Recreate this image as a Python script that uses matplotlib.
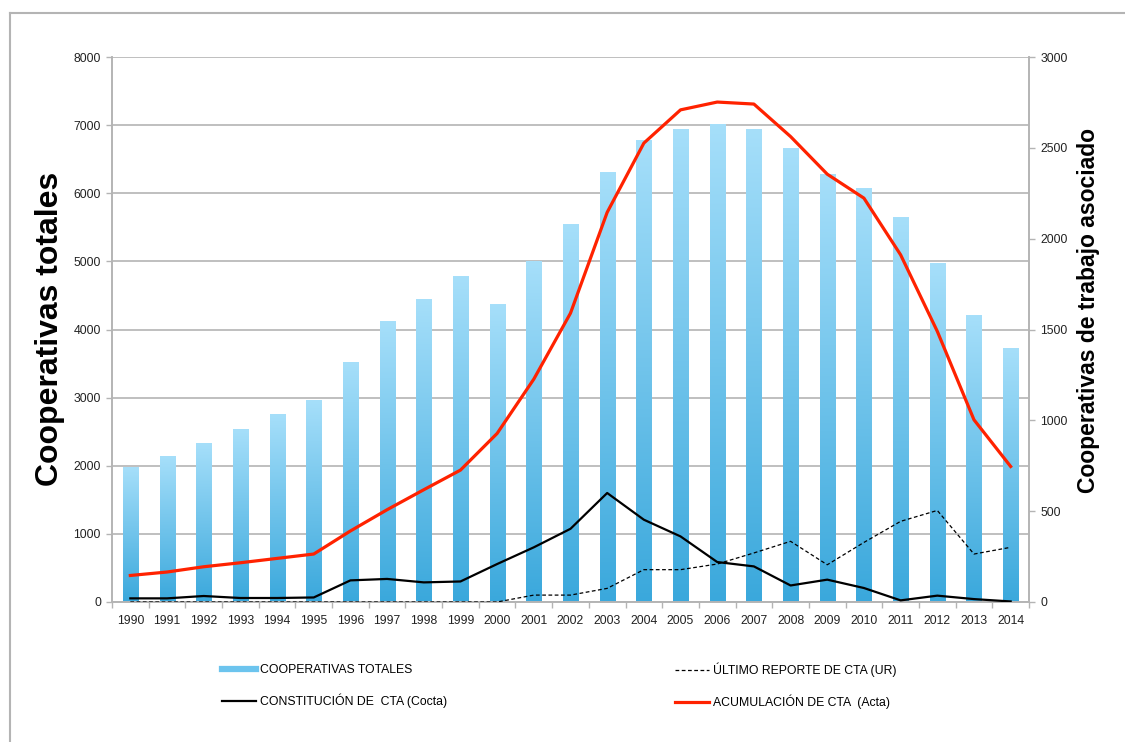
import numpy as np
import matplotlib
matplotlib.use("Agg")
import matplotlib.pyplot as plt
from matplotlib.colors import LinearSegmentedColormap
from matplotlib.lines import Line2D

plt.rcParams['font.family'] = ['Liberation Sans', 'DejaVu Sans']

# Data
years = [str(y) for y in range(1990, 2015)]
totales = [1980, 2135, 2320, 2525, 2745, 2960, 3510, 4120, 4445, 4780, 4365, 4995,
           5540, 6310, 6780, 6930, 7010, 6930, 6650, 6280, 6070, 5645, 4965, 4200, 3715]
acta = [146, 165, 194, 216, 240, 264, 391, 508, 618, 726, 928, 1227,
        1590, 2145, 2526, 2709, 2752, 2741, 2562, 2355, 2223, 1911, 1490, 1003, 746]
cocta = [20, 20, 33, 22, 22, 25, 119, 127, 108, 113, 209, 301,
         403, 600, 453, 361, 220, 196, 91, 123, 77, 9, 35, 16, 3]
ur = [0, 0, 0, 0, 0, 0, 0, 0, 0, 0, 0, 38,
      38, 75, 178, 178, 209, 270, 334, 205, 328, 444, 504, 264, 301]

labels = ['COOPERATIVAS TOTALES', 'CONSTITUCIÓN DE  CTA (Cocta)',
          'ÚLTIMO REPORTE DE CTA (UR)', 'ACUMULACIÓN DE CTA  (Acta)']

W, H = 1125, 742
fig = plt.figure(figsize=(W / 100, H / 100), dpi=100)
ax = fig.add_axes([112 / W, 1 - 602 / H, (1029 - 112) / W, (602 - 57) / H])
ax2 = ax.twinx()

grid_c = '#b4b4b4'
x = np.arange(len(years))

# gradient bars, light at top, darker at the base
bar_cmap = LinearSegmentedColormap.from_list('bar', ['#3aa8dc', '#a6dffa'])
grad = np.linspace(0, 1, 256).reshape(-1, 1)
bw = 0.41
for xi, h in zip(x, totales):
    ax.imshow(grad, cmap=bar_cmap, origin='lower', aspect='auto',
              extent=[xi - bw / 2, xi + bw / 2, 0, h], zorder=2)

ax.set_xlim(-0.5, len(years) - 0.5)
ax.set_ylim(0, 8000)
ax.set_yticks(range(0, 8001, 1000))
ax.yaxis.grid(True, color=grid_c, lw=1.2, zorder=0)
ax.set_axisbelow(True)

ax.set_xticks(x)
ax.set_xticklabels(years)
ax.set_xticks(np.arange(-0.5, len(years)), minor=True)
ax.tick_params(axis='x', which='major', length=0, pad=9, labelsize=8.8, labelcolor='#222222')
ax.tick_params(axis='x', which='minor', length=4, color=grid_c, width=1)
ax.tick_params(axis='y', length=4, color=grid_c, width=1, pad=4, labelsize=8.8,
               labelcolor='#222222')

# lines on the right axis
ax2.plot(x, ur, color='black', lw=0.9, ls=(0, (3, 2)), zorder=3)
ax2.plot(x, cocta, color='black', lw=1.6, zorder=4)
ax2.plot(x, acta, color='#ff2200', lw=2.3, zorder=5)
ax2.set_ylim(0, 3000)
ax2.set_yticks(range(0, 3001, 500))
ax2.tick_params(axis='y', length=4, color=grid_c, width=1, pad=4, labelsize=8.8,
                labelcolor='#222222')

for a in (ax, ax2):
    a.spines['top'].set_visible(False)
    for s in ('left', 'right', 'bottom'):
        a.spines[s].set_color(grid_c)
        a.spines[s].set_linewidth(1.2)

fig.text(50 / W, 1 - 329 / H, 'Cooperativas totales', rotation=90, ha='center', va='center',
         fontsize=23, fontweight='bold')
fig.text(1088 / W, 1 - 310 / H, 'Cooperativas de trabajo asociado', rotation=90,
         ha='center', va='center', fontsize=16.5, fontweight='bold')

# legend below the plot, two separate columns
h_bar = Line2D([], [], color='#6cc4ee', lw=4.5)
h_cocta = Line2D([], [], color='black', lw=1.6)
h_ur = Line2D([], [], color='black', lw=0.9, ls=(0, (3, 2)))
h_acta = Line2D([], [], color='#ff2200', lw=2.3)
leg_font = {'family': ['Liberation Sans Narrow', 'Liberation Sans'], 'size': 8.8}
for hs, ls, x0 in [([h_bar, h_cocta], labels[:2], 222), ([h_ur, h_acta], labels[2:], 675)]:
    fig.legend(hs, ls, loc='center left', bbox_to_anchor=(x0 / W, 1 - 686 / H),
               frameon=False, prop=leg_font, handlelength=2.8, handletextpad=0.3,
               labelspacing=1.45, borderpad=0, borderaxespad=0)

# frame around the chart
fig.add_artist(Line2D([9.5 / W, 1], [1 - 12.5 / H] * 2, transform=fig.transFigure,
                      color=grid_c, lw=1.5))
fig.add_artist(Line2D([9.5 / W] * 2, [0, 1 - 12.5 / H], transform=fig.transFigure,
                      color=grid_c, lw=1.5))

fig.savefig('out.png', dpi=100)
